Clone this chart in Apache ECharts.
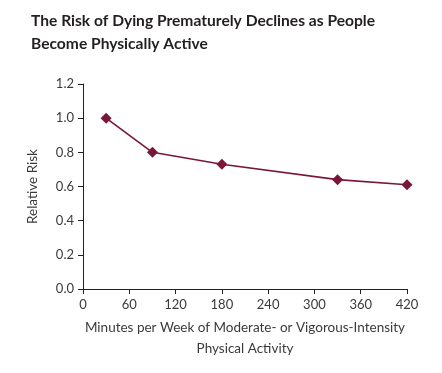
<!DOCTYPE html>
<html><head><meta charset="utf-8">
<script src="https://cdn.jsdelivr.net/npm/echarts@6/dist/echarts.min.js"></script>
<style>html,body{margin:0;padding:0;background:#fff}#c{width:442px;height:373px}</style>
</head><body><div id="c"></div>
<script>
const minutes = [30, 90, 180, 330, 420];
const relativeRisk = [1.0, 0.80, 0.73, 0.64, 0.61];
const titleText = 'The Risk of Dying Prematurely Declines as People\nBecome Physically Active';
const xName = 'Minutes per Week of Moderate- or Vigorous-Intensity\nPhysical Activity';
const yName = 'Relative Risk';

const chart = echarts.init(document.getElementById('c'));
const axisColor = '#231f20';
chart.setOption({
  animation: false,
  title: {
    text: titleText, left: 26, top: 4,
    textStyle: {fontFamily: 'Lato', fontWeight: 'bold', fontSize: 15.6, color: '#231f20', lineHeight: 23}
  },
  grid: {left: 83, right: 35, top: 84, bottom: 84},
  xAxis: {
    type: 'value', min: 0, max: 420, interval: 60,
    name: xName, nameLocation: 'middle', nameGap: 28, nameMoveOverlap: false,
    nameTextStyle: {fontFamily: 'Lato', fontSize: 13.5, color: '#3a3a3a', lineHeight: 21, verticalAlign: 'top'},
    axisLine: {lineStyle: {color: axisColor, width: 1}},
    axisTick: {show: true, length: 5, lineStyle: {color: axisColor}},
    axisLabel: {fontFamily: 'Lato', fontSize: 13, color: '#3a3a3a', margin: 9},
    splitLine: {show: false}
  },
  yAxis: {
    type: 'value', min: 0, max: 1.2, interval: 0.2,
    name: yName, nameLocation: 'middle', nameGap: 43, nameRotate: 90, nameMoveOverlap: false,
    nameTextStyle: {fontFamily: 'Lato', fontSize: 13.5, color: '#3a3a3a'},
    axisLine: {show: true, lineStyle: {color: axisColor, width: 1}},
    axisTick: {show: true, length: 5, lineStyle: {color: axisColor}},
    axisLabel: {fontFamily: 'Lato', fontSize: 13, color: '#3a3a3a', margin: 9,
      formatter: v => v.toFixed(1)},
    splitLine: {show: false}
  },
  series: [{
    type: 'line',
    data: minutes.map((m, i) => [m, relativeRisk[i]]),
    symbol: 'diamond', symbolSize: 11,
    itemStyle: {color: '#7a1737'},
    lineStyle: {color: '#7a1737', width: 1.6}
  }]
});
</script></body></html>
